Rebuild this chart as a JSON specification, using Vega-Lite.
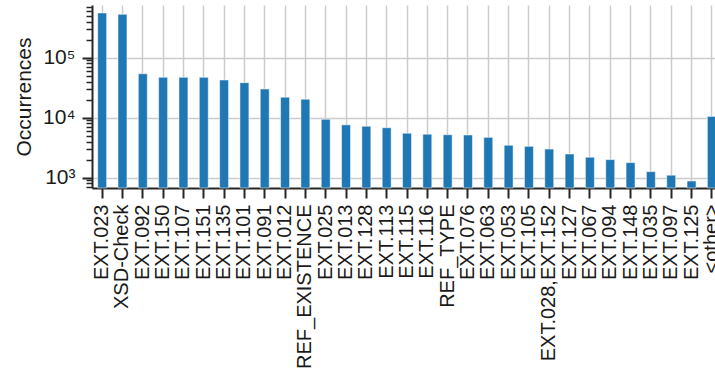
{
  "$schema": "https://vega.github.io/schema/vega-lite/v6.json",
  "width": 630,
  "height": 183,
  "autosize": {"type": "none"},
  "padding": {"left": 92, "top": 5, "right": 0, "bottom": 185},
  "background": "white",
  "config": {
    "view": {"stroke": null},
    "font": "Liberation Sans",
    "axis": {"labelFont": "Liberation Sans", "titleFont": "Liberation Sans", "labelColor": "#1a1a1a", "titleColor": "#1a1a1a", "titleFontWeight": "normal"}
  },
  "data": {
    "values": [
      {"check": "EXT.023", "count": 556000},
      {"check": "XSD-Check", "count": 527000},
      {"check": "EXT.092", "count": 54000},
      {"check": "EXT.150", "count": 47000},
      {"check": "EXT.107", "count": 47000},
      {"check": "EXT.151", "count": 47000},
      {"check": "EXT.135", "count": 42500},
      {"check": "EXT.101", "count": 38300},
      {"check": "EXT.091", "count": 30000},
      {"check": "EXT.012", "count": 22000},
      {"check": "REF_EXISTENCE", "count": 20300},
      {"check": "EXT.025", "count": 9400},
      {"check": "EXT.013", "count": 7600},
      {"check": "EXT.128", "count": 7200},
      {"check": "EXT.113", "count": 6800},
      {"check": "EXT.115", "count": 5500},
      {"check": "EXT.116", "count": 5300},
      {"check": "REF_TYPE", "count": 5200},
      {"check": "EXT.076", "count": 5150},
      {"check": "EXT.063", "count": 4700},
      {"check": "EXT.053", "count": 3470},
      {"check": "EXT.105", "count": 3330},
      {"check": "EXT.028,EXT.152", "count": 3000},
      {"check": "EXT.127", "count": 2480},
      {"check": "EXT.067", "count": 2190},
      {"check": "EXT.094", "count": 2000},
      {"check": "EXT.148", "count": 1780},
      {"check": "EXT.035", "count": 1260},
      {"check": "EXT.097", "count": 1100},
      {"check": "EXT.125", "count": 880},
      {"check": "<other>", "count": 10500}
    ]
  },
  "encoding": {
    "x": {
      "field": "check",
      "type": "nominal",
      "sort": null,
      "scale": {"paddingInner": 0.56, "paddingOuter": 0.28},
      "axis": {
        "title": null,
        "labelAngle": -90,
        "labelAlign": "right",
        "labelBaseline": "middle",
        "labelFontSize": 20,
        "labelPadding": 6,
        "labelOverlap": false,
        "labelLimit": 300,
        "tickSize": 10,
        "tickWidth": 2,
        "tickColor": "#262626",
        "domainColor": "#262626",
        "domainWidth": 2,
        "grid": true,
        "gridColor": "#cccccc",
        "gridWidth": 1.5,
        "bandPosition": 0.5
      }
    }
  },
  "layer": [
    {
      "mark": {"type": "bar", "color": "#1f77b4", "stroke": "#ffffff", "strokeWidth": 0.5},
      "encoding": {
        "y": {
          "field": "count",
          "type": "quantitative",
          "scale": {"type": "log", "domain": [673, 755000], "nice": false},
          "axis": {
            "title": "Occurrences",
            "titleFontSize": 21,
            "titleX": -68,
            "titleY": 91.5,
            "titleAngle": -90,
            "titleAlign": "center",
            "titleBaseline": "middle",
            "values": [1000, 10000, 100000],
            "labelExpr": "datum.value == 1000 ? '10³' : datum.value == 10000 ? '10⁴' : '10⁵'",
            "labelFontSize": 21,
            "labelPadding": 7,
            "tickSize": 10,
            "tickWidth": 2,
            "tickColor": "#262626",
            "domainColor": "#262626",
            "domainWidth": 2,
            "grid": true,
            "gridColor": "#cccccc",
            "gridWidth": 1.5
          }
        },
        "y2": {"datum": 673}
      }
    },
    {
      "mark": {"type": "point", "opacity": 0},
      "encoding": {
        "y": {
          "field": "count",
          "type": "quantitative",
          "axis": {
            "orient": "left",
            "title": null,
            "labels": false,
            "domain": false,
            "grid": false,
            "values": [700, 800, 900, 2000, 3000, 4000, 5000, 6000, 7000, 8000, 9000, 20000, 30000, 40000, 50000, 60000, 70000, 80000, 90000, 200000, 300000, 400000, 500000, 600000, 700000],
            "tickSize": 6,
            "tickWidth": 1.5,
            "tickColor": "#262626"
          }
        }
      }
    }
  ],
  "resolve": {"axis": {"y": "independent"}}
}
